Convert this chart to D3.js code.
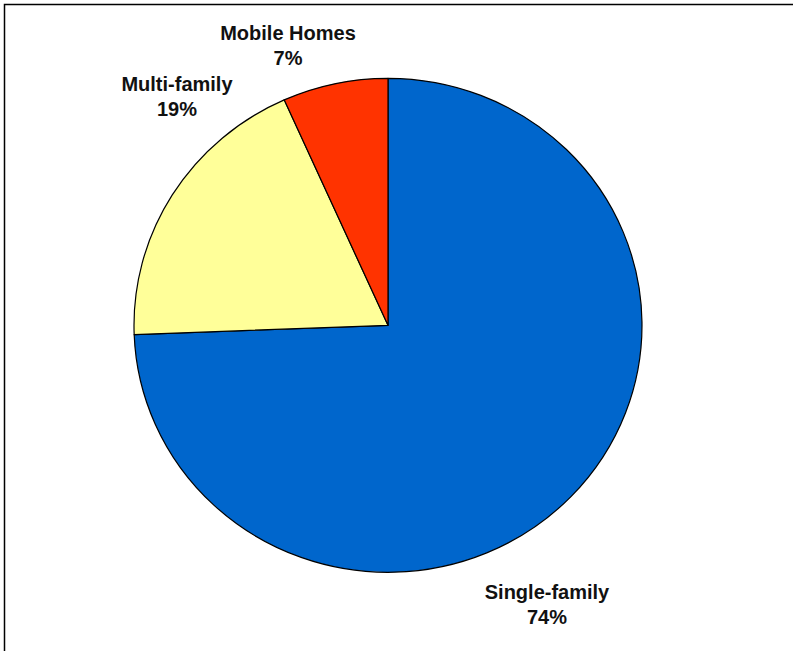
<!DOCTYPE html>
<html>
<head>
<meta charset="utf-8">
<script src="https://cdn.jsdelivr.net/npm/d3@7"></script>
<style>
  html, body { margin: 0; padding: 0; background: #fff; }
  svg { display: block; }
</style>
</head>
<body>
<svg id="chart"></svg>
<script>
// housing type shares
const categories = ['Single-family', 'Multi-family', 'Mobile Homes'];
const values = [74.4, 18.9, 6.7];
const colors = ['#0066cc', '#ffff99', '#ff3300'];

// label anchor offsets from the pie centre, first baseline
const labelAt = {
  'Single-family': [159, 274],
  'Multi-family': [-211, -234],
  'Mobile Homes': [-100, -285],
};

const width = 793;
const height = 651;
const cx = 388;
const cy = 325.3;
const rx = 254;
const ry = 247;

const svg = d3.select('#chart').attr('width', width).attr('height', height);

// outer frame, right and bottom edges fall off the page
svg.append('rect')
  .attr('x', 4.5)
  .attr('y', 4.5)
  .attr('width', 820)
  .attr('height', 700)
  .attr('fill', 'none')
  .attr('stroke', '#000')
  .attr('stroke-width', 1.5);

const total = d3.sum(values);
const data = categories.map((c, i) => ({ name: c, value: values[i], color: colors[i] }));

const pie = d3.pie().sort(null).value(d => d.value);
const arc = d3.arc().innerRadius(0).outerRadius(rx);

const g = svg.append('g')
  .attr('transform', `translate(${cx},${cy}) scale(1,${ry / rx})`);

g.selectAll('path')
  .data(pie(data))
  .join('path')
  .attr('d', arc)
  .attr('fill', d => d.data.color)
  .attr('stroke', '#000')
  .attr('stroke-width', 1.2)
  .attr('stroke-linejoin', 'round')
  .attr('vector-effect', 'non-scaling-stroke');

const labels = svg.append('g')
  .attr('font-family', '"Liberation Sans", Arial, sans-serif')
  .attr('font-weight', 'bold')
  .attr('font-size', 20)
  .attr('fill', '#111')
  .attr('text-anchor', 'middle');

data.forEach((d) => {
  const [dx, dy] = labelAt[d.name];
  const t = labels.append('text')
    .attr('x', cx + dx)
    .attr('y', cy + dy);
  t.append('tspan').attr('x', cx + dx).text(d.name);
  t.append('tspan').attr('x', cx + dx).attr('dy', 24.5)
    .text(`${Math.round((d.value / total) * 100)}%`);
});
</script>
</body>
</html>
